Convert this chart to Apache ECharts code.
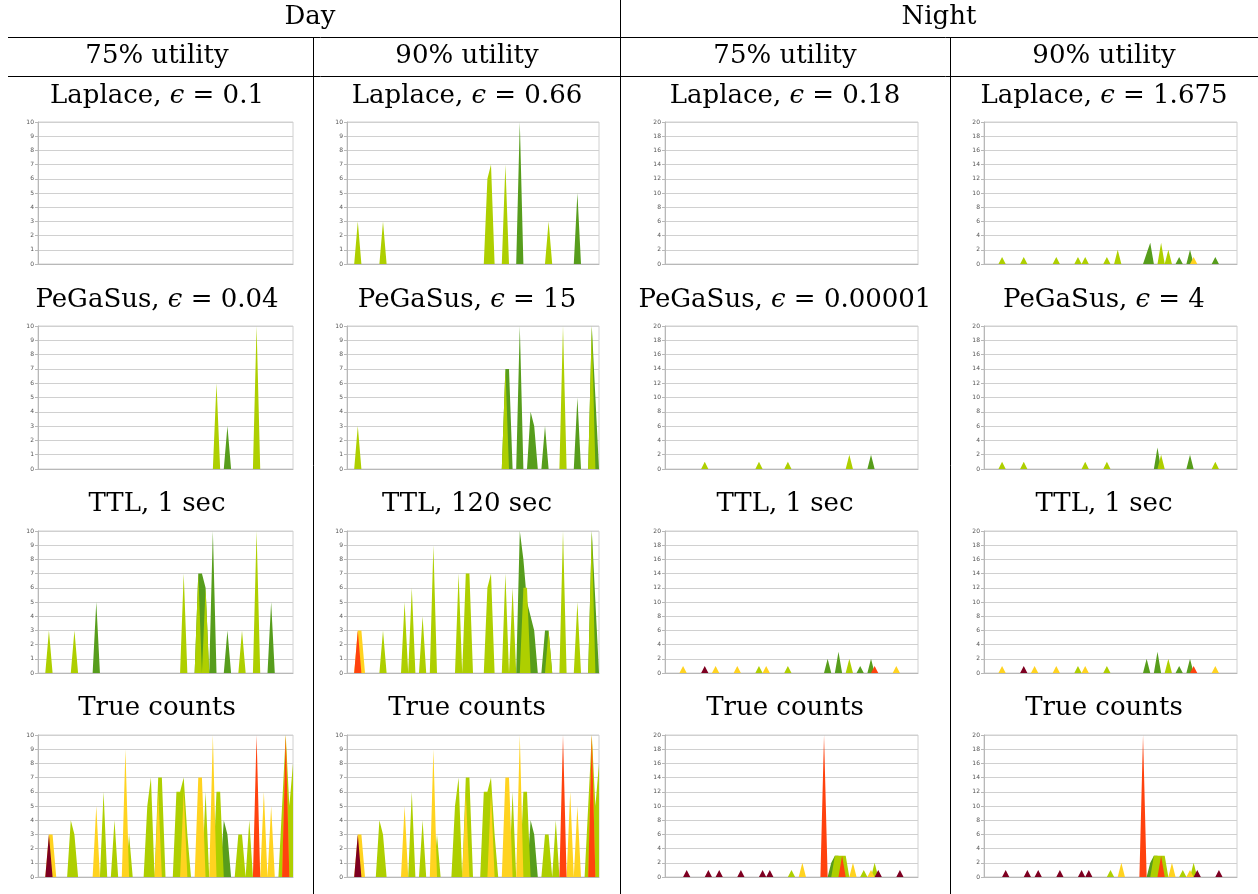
<!DOCTYPE html>
<html><head><meta charset="utf-8">
<script src="https://cdn.jsdelivr.net/npm/echarts/dist/echarts.min.js"></script>
<style>html,body{margin:0;padding:0;background:#fff}#c{width:1258px;height:894px}</style>
</head><body><div id="c"></div>
<script>
// ---------- data: sparse spikes [categoryIndex, value] ----------
const DAY_POINTS = 71, NIGHT_POINTS = 71;
const dayYMax = 10, dayYStep = 1, nightYMax = 20, nightYStep = 2;

const colTitles = ['75% utility', '90% utility', '75% utility', '90% utility'];
const periodTitles = ['Day', 'Night'];
const panelTitles = [
  ['Laplace, ', '0.1', 'Laplace, ', '0.66', 'Laplace, ', '0.18', 'Laplace, ', '1.675'],
  ['PeGaSus, ', '0.04', 'PeGaSus, ', '15', 'PeGaSus, ', '0.00001', 'PeGaSus, ', '4'],
  ['TTL, 1 sec', null, 'TTL, 120 sec', null, 'TTL, 1 sec', null, 'TTL, 1 sec', null],
  ['True counts', null, 'True counts', null, 'True counts', null, 'True counts', null]
];

// Day, Laplace eps=0.1 : empty
// Day, Laplace eps=0.66
const dayLap066_yg = [[3,3],[10,3],[39,6],[40,7],[44,7],[56,3]];
const dayLap066_green = [[48,10],[64,5]];
// Day, PeGaSus eps=0.04
const dayPeg004_yg = [[49,6],[60,10]];
const dayPeg004_green = [[52,3]];
// Day, PeGaSus eps=15
const dayPeg15_yg = [[3,3],[44,7],[60,10],[68,10]];
const dayPeg15_green = [[44,7],[45,7],[48,10],[51,4],[52,3],[55,3],[64,5],[68,10],[69,5]];
// Day, TTL 1 sec
const dayTtl1_yg = [[3,3],[10,3],[40,7],[44,7],[46,6],[56,3],[60,10]];
const dayTtl1_green = [[16,5],[44,7],[45,7],[46,6],[48,10],[52,3],[64,5]];
// Day, TTL 120 sec
const dayTtl120_red = [[3,3]];
const dayTtl120_yellow = [[3,3],[4,3]];
const dayTtl120_yg = [[10,3],[16,5],[18,6],[21,4],[24,9],[31,7],[33,7],[34,7],[39,6],[40,7],[44,7],[46,6],[49,6],[50,6],[56,3],[60,10],[64,5],[68,10]];
const dayTtl120_green = [[48,10],[49,8],[50,5],[51,4],[52,3],[55,3],[56,3],[68,10],[69,5]];
// Day, true counts
const dayTrue_maroon = [[3,3]];
const dayTrue_red = [[60,10],[68,10]];
const dayTrue_yellow = [[3,3],[4,3],[16,5],[24,9],[33,6],[40,6],[44,7],[45,7],[48,10],[62,6],[64,5],[68,10]];
const dayTrue_yg = [[9,4],[10,3],[18,6],[21,4],[25,3],[30,5],[31,7],[33,7],[34,7],[38,6],[39,6],[40,7],[41,3],[46,6],[49,6],[50,6],[55,3],[56,3],[58,4],[67,5],[68,10],[69,5],[70,8]];
const dayTrue_green = [[51,4],[52,3]];

// Night, Laplace eps=0.18 : empty
// Night, Laplace eps=1.675
const nightLap1675_yg = [[5,1],[11,1],[20,1],[26,1],[28,1],[34,1],[37,2],[49,3],[51,2]];
const nightLap1675_green = [[45,1.5],[46,3],[54,1],[57,2],[64,1]];
const nightLap1675_yellow = [[58,1]];
// Night, PeGaSus eps=0.00001
const nightPeg00001_yg = [[11,1],[26,1],[34,1],[51,2]];
const nightPeg00001_green = [[57,2]];
// Night, PeGaSus eps=4
const nightPeg4_yg = [[5,1],[11,1],[28,1],[34,1],[49,2],[64,1]];
const nightPeg4_green = [[48,3],[57,2]];
// Night, TTL 1 sec
const nightTtl_maroon = [[11,1]];
const nightTtl_red = [[58,1]];
const nightTtl_yellow = [[5,1],[14,1],[20,1],[28,1],[64,1]];
const nightTtl_yg = [[26,1],[34,1],[51,2]];
const nightTtl_green = [[45,2],[48,3],[54,1],[57,2]];
// Night, true counts
const nightTrue_maroon = [[6,1],[12,1],[15,1],[21,1],[27,1],[29,1],[59,1],[65,1]];
const nightTrue_red = [[44,20],[49,3]];
const nightTrue_yellow = [[38,2],[52,2],[57,1]];
const nightTrue_yg = [[35,1],[47,3],[48,3],[49,3],[50,3],[55,1],[58,2]];
const nightTrue_green = [[46,2],[47,3],[48,3]];

// ---------- layout ----------
const COLORS = { green:'#579d1c', yg:'#aecf00', yellow:'#ffd320', red:'#ff420e', maroon:'#7e0021' };
const ORDER = ['green','yg','yellow','red','maroon']; // back to front
const colLeft = [38, 347, 665, 984], colRight = [293, 599, 918, 1237];
const rowTop = [122, 326, 531, 735], rowBottom = [264, 469, 673, 877];
const colCenter = [157, 467, 785, 1104];
const titleY = [96, 300, 504, 708];

const panels = [
  [ {}, {yg:dayLap066_yg, green:dayLap066_green}, {}, {yg:nightLap1675_yg, green:nightLap1675_green, yellow:nightLap1675_yellow} ],
  [ {yg:dayPeg004_yg, green:dayPeg004_green}, {yg:dayPeg15_yg, green:dayPeg15_green}, {yg:nightPeg00001_yg, green:nightPeg00001_green}, {yg:nightPeg4_yg, green:nightPeg4_green} ],
  [ {yg:dayTtl1_yg, green:dayTtl1_green}, {red:dayTtl120_red, yellow:dayTtl120_yellow, yg:dayTtl120_yg, green:dayTtl120_green},
    {maroon:nightTtl_maroon, red:nightTtl_red, yellow:nightTtl_yellow, yg:nightTtl_yg, green:nightTtl_green},
    {maroon:nightTtl_maroon, red:nightTtl_red, yellow:nightTtl_yellow, yg:nightTtl_yg, green:nightTtl_green} ],
  [ {maroon:dayTrue_maroon, red:dayTrue_red, yellow:dayTrue_yellow, yg:dayTrue_yg, green:dayTrue_green},
    {maroon:dayTrue_maroon, red:dayTrue_red, yellow:dayTrue_yellow, yg:dayTrue_yg, green:dayTrue_green},
    {maroon:nightTrue_maroon, red:nightTrue_red, yellow:nightTrue_yellow, yg:nightTrue_yg, green:nightTrue_green},
    {maroon:nightTrue_maroon, red:nightTrue_red, yellow:nightTrue_yellow, yg:nightTrue_yg, green:nightTrue_green} ]
];

function dense(pairs, n) {
  const a = new Array(n).fill(0);
  (pairs || []).forEach(p => { a[p[0]] = p[1]; });
  return a;
}

const grid = [], xAxis = [], yAxis = [], series = [];
const GRID_C = '#d0d0d0', AXIS_C = '#b8b8b8';
let gi = 0;
for (let r = 0; r < 4; r++) {
  for (let c = 0; c < 4; c++) {
    const night = c >= 2;
    const n = night ? NIGHT_POINTS : DAY_POINTS;
    grid.push({ left: colLeft[c], top: rowTop[r], width: colRight[c] - colLeft[c], height: rowBottom[r] - rowTop[r],
      show: true, borderColor: GRID_C, borderWidth: 1, containLabel: false });
    const cats = Array.from({length: n}, (_, i) => String(i));
    xAxis.push({ type: 'category', gridIndex: gi, data: cats, boundaryGap: false,
      axisLabel: { show: false }, axisTick: { show: false },
      axisLine: { show: true, lineStyle: { color: AXIS_C, width: 1 } }, splitLine: { show: false } });
    yAxis.push({ type: 'value', gridIndex: gi, min: 0, max: night ? nightYMax : dayYMax, interval: night ? nightYStep : dayYStep,
      axisLabel: { fontSize: 6, color: '#555', margin: 4, fontFamily: 'DejaVu Sans' },
      axisTick: { show: true, length: 3, lineStyle: { color: AXIS_C } },
      axisLine: { show: true, lineStyle: { color: AXIS_C, width: 1 } },
      splitLine: { show: true, lineStyle: { color: GRID_C, width: 1 } } });
    const p = panels[r][c];
    ORDER.forEach(k => {
      if (!p[k]) return;
      series.push({ type: 'line', xAxisIndex: gi, yAxisIndex: gi, data: dense(p[k], n),
        symbol: 'none', silent: true, smooth: false,
        lineStyle: { width: 0, color: COLORS[k] }, itemStyle: { color: COLORS[k] },
        areaStyle: { color: COLORS[k], opacity: 1 } });
    });
    gi++;
  }
}

// ---------- table text and rules ----------
const FONT = '"DejaVu Serif", "Liberation Serif", serif';
const FS = 26;
const graphic = [];
function txt(x, y, text, rich) {
  graphic.push({ type: 'text', x: x, y: y, silent: true,
    style: { text: text, font: FS + 'px ' + FONT, fill: '#000', align: 'center', verticalAlign: 'middle', rich: rich || {} } });
}
txt(310, 17, periodTitles[0]);
txt(939, 17, periodTitles[1]);
for (let c = 0; c < 4; c++) txt(colCenter[c], 56, colTitles[c]);
const epsRich = { n: { fontSize: FS, fontFamily: FONT }, e: { fontSize: FS, fontFamily: FONT, fontStyle: 'italic' } };
for (let r = 0; r < 4; r++) {
  for (let c = 0; c < 4; c++) {
    const t = panelTitles[r][c * 2], v = panelTitles[r][c * 2 + 1];
    if (v === null) txt(colCenter[c], titleY[r], t);
    else txt(colCenter[c], titleY[r], '{n|' + t + '}{e|ϵ}{n| = ' + v + '}', epsRich);
  }
}
function ln(x1, y1, x2, y2) {
  graphic.push({ type: 'line', silent: true, shape: { x1: x1, y1: y1, x2: x2, y2: y2 }, style: { stroke: '#000', lineWidth: 1 } });
}
ln(8, 37.5, 1258, 37.5);
ln(8, 76.5, 1258, 76.5);
ln(620.5, 0, 620.5, 894);
ln(313.5, 37.5, 313.5, 894);
ln(950.5, 37.5, 950.5, 894);

const chart = echarts.init(document.getElementById('c'), null, { renderer: 'canvas' });
chart.setOption({ animation: false, backgroundColor: '#fff', grid, xAxis, yAxis, series, graphic });
</script></body></html>
